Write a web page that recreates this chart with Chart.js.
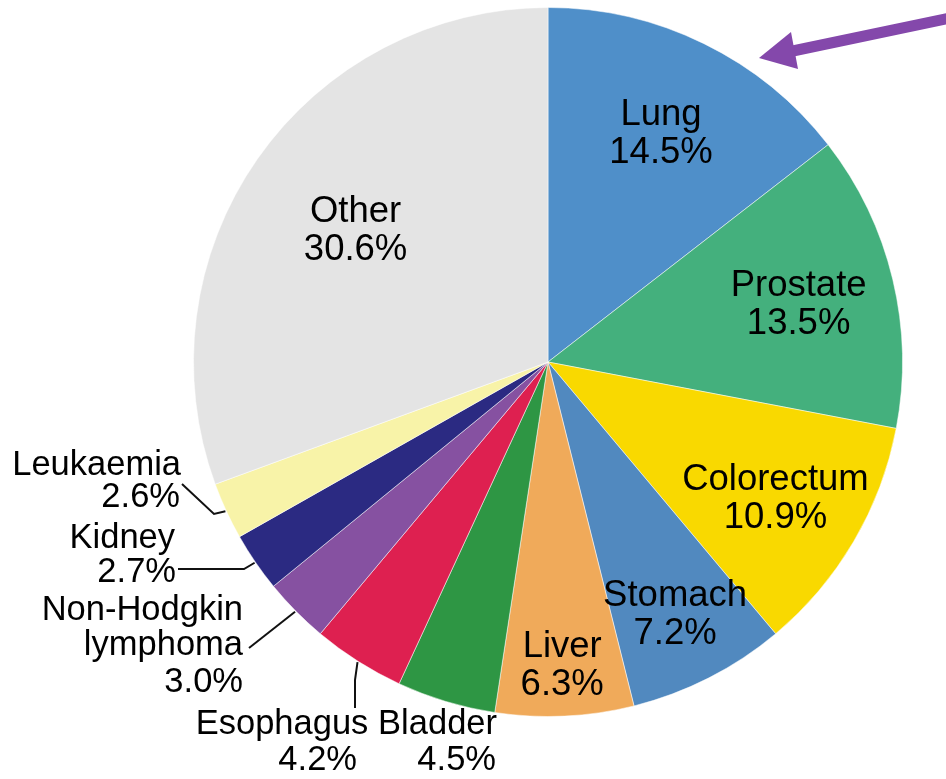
<!DOCTYPE html>
<html>
<head>
<meta charset="utf-8">
<script src="https://cdn.jsdelivr.net/npm/chart.js@4.4.1/dist/chart.umd.min.js"></script>
<style>
  html, body { margin: 0; padding: 0; background: #fff; }
  #wrap { position: relative; width: 946px; height: 779px; }
</style>
</head>
<body>
<div id="wrap"><canvas id="chart"></canvas></div>
<script>
// slice data, clockwise from 12 o'clock
const categories = ['Lung', 'Prostate', 'Colorectum', 'Stomach', 'Liver', 'Bladder', 'Esophagus', 'Non-Hodgkin lymphoma', 'Kidney', 'Leukaemia', 'Other'];
const shares = [14.5, 13.5, 10.9, 7.2, 6.3, 4.5, 4.2, 3.0, 2.7, 2.6, 30.6];
const sliceColors = ['#4f8fc9', '#44b07d', '#f9d900', '#5189bf', '#f0aa5a', '#2e9644', '#de2050', '#8651a1', '#2b2a82', '#f8f3a8', '#e4e4e4'];

const FAMILY = '"Liberation Sans", Arial, sans-serif';
const IN_SIZE = 36.5;
const OUT_SIZE = 34.5;
const LINE_H = 38;
const CAP = 0.716; // cap height / font size for Arial-like fonts

// labels drawn inside the slice: index -> fraction of radius
const insideLabels = [
  { i: 0, r: 0.725 },
  { i: 1, r: 0.727 },
  { i: 2, r: 0.744 },
  { i: 3, r: 0.79 },
  { i: 4, r: 0.85 },
  { i: 10, r: 0.662 }
];

// labels placed outside with leader lines (x, cap-middle y, align)
const outsideLabels = [
  { i: 9, lines: [['Leukaemia', 181, 463, 'right'], ['%', 180, 495, 'right']], leader: [[182, 484], [214, 514]] },
  { i: 8, lines: [['Kidney', 175, 536, 'right'], ['%', 176, 570, 'right']], leader: [[178, 569], [244, 569]] },
  { i: 7, lines: [['Non-Hodgkin', 243, 608, 'right'], ['lymphoma', 243, 643, 'right'], ['%', 243, 680, 'right']], leader: [[249, 648]] },
  { i: 6, lines: [['Esophagus', 282, 722, 'center'], ['%', 357, 758, 'right']], leader: [[355, 708], [355, 680]] },
  { i: 5, lines: [['Bladder', 497, 722, 'right'], ['%', 496, 758, 'right']], leader: [] }
];

const pct = i => shares[i].toFixed(1) + '%';

const labelPlugin = {
  id: 'sliceLabels',
  afterDatasetsDraw(chart) {
    const ctx = chart.ctx;
    const arcs = chart.getDatasetMeta(0).data;
    ctx.save();
    ctx.fillStyle = '#000';
    ctx.textBaseline = 'alphabetic';

    ctx.font = IN_SIZE + 'px ' + FAMILY;
    const inShift = IN_SIZE * CAP / 2;
    insideLabels.forEach(l => {
      const a = arcs[l.i].getProps(['x', 'y', 'startAngle', 'endAngle', 'outerRadius'], true);
      const mid = (a.startAngle + a.endAngle) / 2;
      const cx = a.x + Math.cos(mid) * a.outerRadius * l.r;
      const cy = a.y + Math.sin(mid) * a.outerRadius * l.r;
      ctx.textAlign = 'center';
      ctx.fillText(categories[l.i], cx, cy - LINE_H / 2 + inShift);
      ctx.fillText(pct(l.i), cx, cy + LINE_H / 2 + inShift);
    });

    ctx.font = OUT_SIZE + 'px ' + FAMILY;
    const outShift = OUT_SIZE * CAP / 2;
    outsideLabels.forEach(l => {
      const a = arcs[l.i].getProps(['x', 'y', 'startAngle', 'endAngle', 'outerRadius'], true);
      const mid = (a.startAngle + a.endAngle) / 2;
      l.lines.forEach(([t, x, y, align]) => {
        ctx.textAlign = align;
        ctx.fillText(t === '%' ? pct(l.i) : t, x, y + outShift);
      });
      if (l.leader.length) {
        const ex = a.x + Math.cos(mid) * (a.outerRadius + 1);
        const ey = a.y + Math.sin(mid) * (a.outerRadius + 1);
        ctx.strokeStyle = '#111';
        ctx.lineWidth = 2;
        ctx.beginPath();
        ctx.moveTo(l.leader[0][0], l.leader[0][1]);
        l.leader.slice(1).forEach(p => ctx.lineTo(p[0], p[1]));
        ctx.lineTo(ex, ey);
        ctx.stroke();
      }
    });

    // purple pointer arrow aimed at the Lung slice
    ctx.fillStyle = '#8448ab';
    ctx.strokeStyle = '#8448ab';
    ctx.lineWidth = 11;
    ctx.beginPath();
    ctx.moveTo(950, 18);
    ctx.lineTo(788, 52);
    ctx.stroke();
    ctx.beginPath();
    ctx.moveTo(759, 58);
    ctx.lineTo(791, 32);
    ctx.lineTo(798, 69);
    ctx.closePath();
    ctx.fill();
    ctx.restore();
  }
};

new Chart(document.getElementById('chart'), {
  type: 'pie',
  data: {
    labels: categories,
    datasets: [{
      data: shares,
      backgroundColor: sliceColors,
      borderColor: 'rgba(255,255,255,0.5)',
      borderWidth: 1
    }]
  },
  options: {
    responsive: true,
    maintainAspectRatio: false,
    animation: false,
    layout: { padding: { left: 193, right: 43, top: 7, bottom: 62 } },
    plugins: {
      legend: { display: false },
      tooltip: { enabled: false }
    }
  },
  plugins: [labelPlugin]
});
</script>
</body>
</html>
